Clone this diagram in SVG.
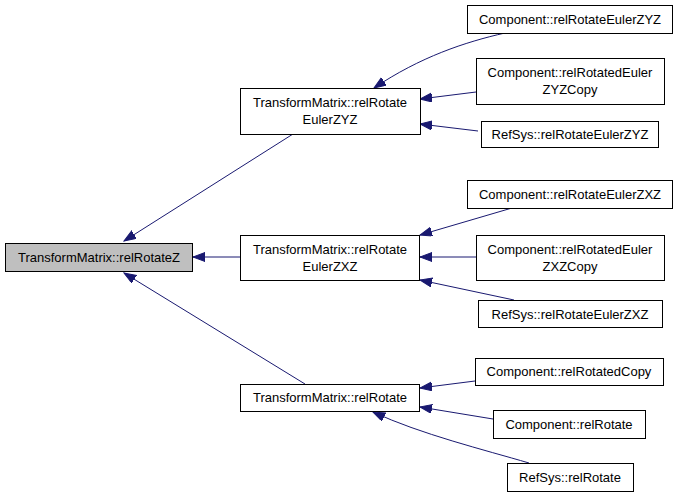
<svg xmlns="http://www.w3.org/2000/svg" width="677" height="499" viewBox="0 0 677 499">
<style>
.n rect{fill:#ffffff;stroke:#000000;stroke-width:1}
.n.root rect{fill:#bfbfbf}
.n text{font-family:"Liberation Sans",Arial,sans-serif;font-size:13px;fill:#000000;text-anchor:middle}
.e path{fill:none;stroke:#191970;stroke-width:1;marker-end:url(#ah)}
</style>
<defs>
<marker id="ah" markerUnits="userSpaceOnUse" markerWidth="13" markerHeight="10" refX="12" refY="4.5" orient="auto">
<path d="M0,0 L12,4.5 L0,9 z" fill="#191970" stroke="#191970" stroke-width="1"/>
</marker>
</defs>
<rect width="677" height="499" fill="#ffffff"/>
<g id="edges" class="e">
<path d="M293,134 L124,241"/>
<path d="M240,257 L193,257"/>
<path d="M305,384 L124,273"/>
<path d="M505,33 C465,42 420,57 374,88"/>
<path d="M476,92 L420,99"/>
<path d="M478,131 L420,124"/>
<path d="M512,208 L420,235"/>
<path d="M476,257 L420,257"/>
<path d="M514,300 L420,280"/>
<path d="M475,381 L420,388"/>
<path d="M493,419 L420,407"/>
<path d="M529,463 C485,450 420,434 373,412"/>
</g>
<g id="n_relRotateZ" class="n root"><rect x="5.5" y="243.5" width="187" height="28"/><text x="99" y="262">TransformMatrix::relRotateZ</text></g>
<g id="n_tm_zyz" class="n"><rect x="240.5" y="88.5" width="180" height="46"/><text x="330" y="107">TransformMatrix::relRotate</text><text x="330" y="124">EulerZYZ</text></g>
<g id="n_tm_zxz" class="n"><rect x="240.5" y="235.5" width="179" height="45"/><text x="330" y="254">TransformMatrix::relRotate</text><text x="330" y="271">EulerZXZ</text></g>
<g id="n_tm_rot" class="n"><rect x="240.5" y="384.5" width="179" height="27"/><text x="330" y="402">TransformMatrix::relRotate</text></g>
<g id="n_c_zyz" class="n"><rect x="467.5" y="5.5" width="205" height="28"/><text x="570" y="24">Component::relRotateEulerZYZ</text></g>
<g id="n_c_zyzc" class="n"><rect x="476.5" y="58.5" width="188" height="46"/><text x="570" y="77">Component::relRotatedEuler</text><text x="570" y="94">ZYZCopy</text></g>
<g id="n_r_zyz" class="n"><rect x="481.5" y="121.5" width="177" height="26"/><text x="570" y="139">RefSys::relRotateEulerZYZ</text></g>
<g id="n_c_zxz" class="n"><rect x="467.5" y="180.5" width="205" height="28"/><text x="570" y="199">Component::relRotateEulerZXZ</text></g>
<g id="n_c_zxzc" class="n"><rect x="476.5" y="235.5" width="188" height="45"/><text x="570" y="254">Component::relRotatedEuler</text><text x="570" y="271">ZXZCopy</text></g>
<g id="n_r_zxz" class="n"><rect x="478.5" y="300.5" width="184" height="27"/><text x="570" y="319">RefSys::relRotateEulerZXZ</text></g>
<g id="n_c_rotc" class="n"><rect x="475.5" y="358.5" width="188" height="27"/><text x="569" y="376">Component::relRotatedCopy</text></g>
<g id="n_c_rot" class="n"><rect x="493.5" y="410.5" width="152" height="28"/><text x="569" y="429">Component::relRotate</text></g>
<g id="n_r_rot" class="n"><rect x="507.5" y="463.5" width="126" height="28"/><text x="570" y="482">RefSys::relRotate</text></g>
</svg>
